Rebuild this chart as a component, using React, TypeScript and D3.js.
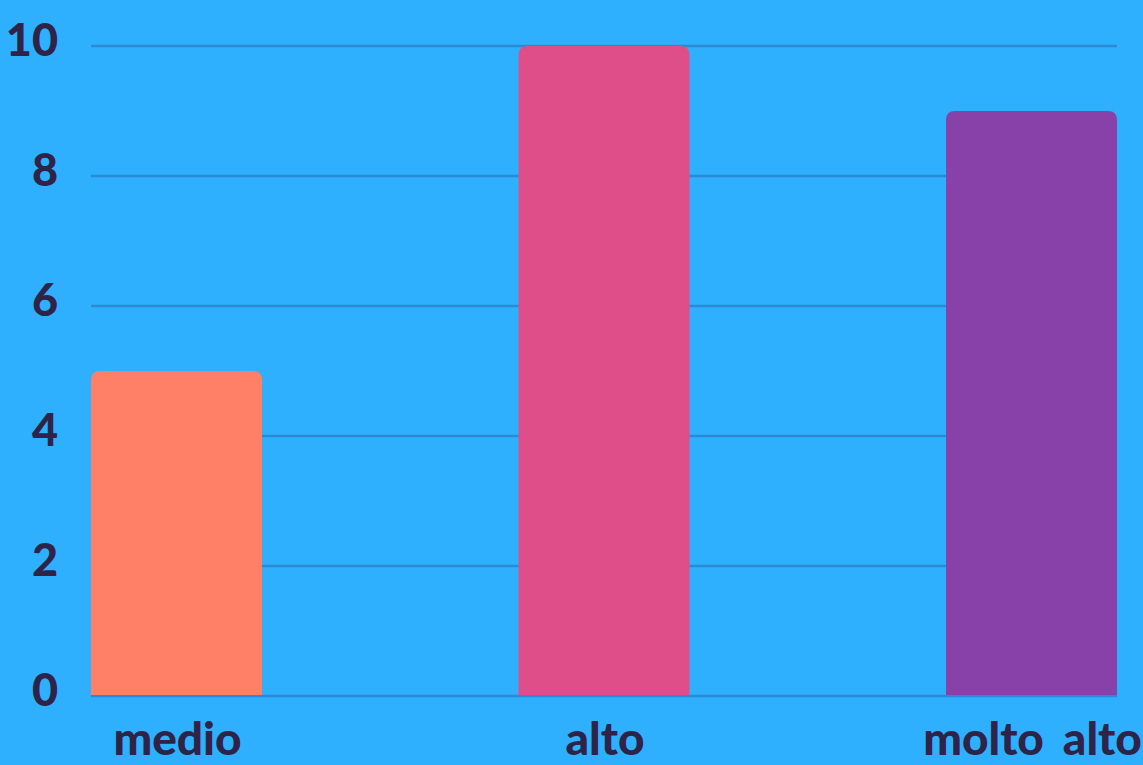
import * as d3 from "d3";
import React from 'react'

const categories = ["medio", "alto", "molto alto"]
const values = [5, 10, 9]
const barColors = ["#FF8066", "#E04E8A", "#8841A9"]
const yTicks = [0, 2, 4, 6, 8, 10]

const W = 1143
const H = 765

// bar with rounded top corners only
const topRounded = (x: number, y: number, w: number, h: number, r: number) => {
  const rr = Math.min(r, w / 2, h)
  return `M${x},${y + h} L${x},${y + rr} Q${x},${y} ${x + rr},${y} L${x + w - rr},${y} Q${x + w},${y} ${x + w},${y + rr} L${x + w},${y + h} Z`
}

const App: React.FC = () => {
  const x = d3.scaleBand<string>().domain(categories).range([91, 1117]).paddingInner(0.6).paddingOuter(0)
  const y = d3.scaleLinear().domain([0, 10]).range([696, 46])
  const font = "Lato, 'Open Sans', sans-serif"

  return (
    <svg width={W} height={H} style={{ position: "absolute", left: 0, top: 0, background: "#2EB0FF" }}>
      <rect x={0} y={0} width={W} height={H} fill="#2EB0FF" />
      {yTicks.map(t =>
        <line key={"g" + t} x1={91} x2={1117} y1={y(t)} y2={y(t)} stroke="#2B8AD3" strokeWidth={2.5} />)}
      {yTicks.map(t =>
        <text key={"t" + t} x={58} y={y(t) + 10} textAnchor="end"
          fontFamily={font} fontWeight={900} fontSize={45} fill="#2F2447">{t}</text>)}
      {categories.map((c, i) =>
        <path key={c} d={topRounded(x(c) as number, y(values[i]), x.bandwidth(), y(0) - y(values[i]) - 1, 9)}
          fill={barColors[i]} />)}
      {categories.map(c =>
        <text key={"l" + c} x={(x(c) as number) + x.bandwidth() / 2 + 1} y={755} textAnchor="middle"
          fontFamily={font} fontWeight={900} fontSize={46} wordSpacing={8} fill="#2F2447">{c}</text>)}
    </svg>
  )
}

export default App
